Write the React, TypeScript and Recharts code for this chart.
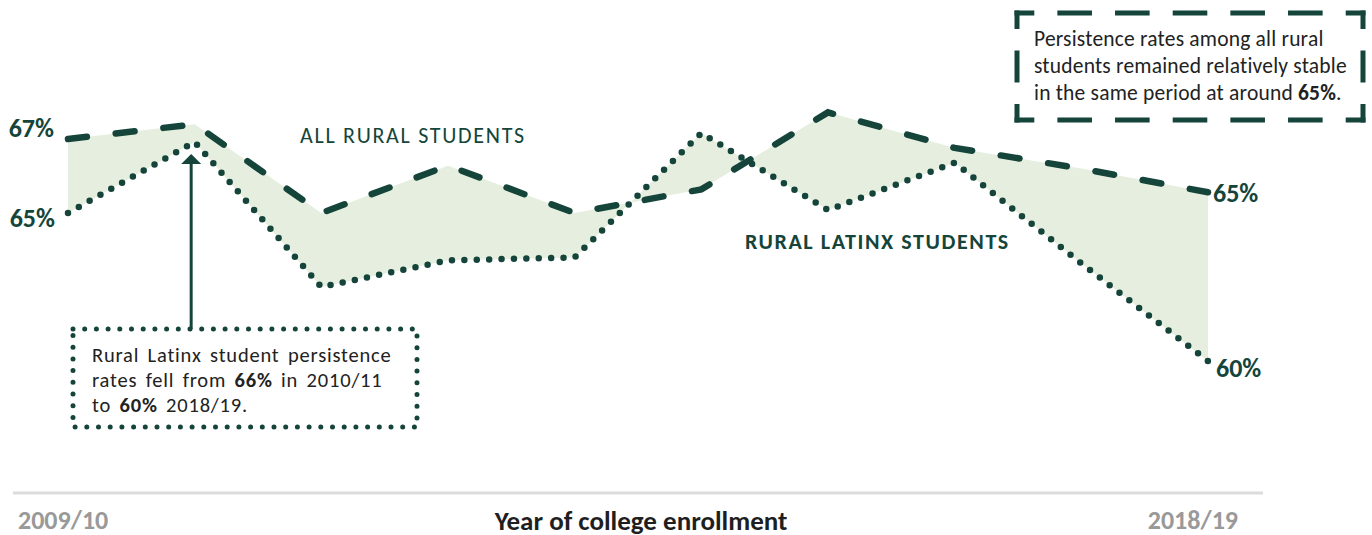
import React from "react";
import { ComposedChart, Area, Line, XAxis, YAxis, LabelList } from "recharts";

const years = ["2009/10", "2010/11", "2011/12", "2012/13", "2013/14", "2014/15", "2015/16", "2016/17", "2017/18", "2018/19"];
const allRural = [67.5, 68.0, 65.0, 66.6, 65.0, 65.8, 68.4, 67.2, 66.5, 65.7];
const latinx = [65.0, 67.4, 62.5, 63.4, 63.5, 67.7, 65.1, 66.7, 63.3, 60.0];
const allRuralEndLabels = ["67%", "65%"];
const latinxEndLabels = ["65%", "60%"];

const data = years.map((year, i) => ({
  idx: i,
  year,
  allRural: allRural[i],
  latinx: latinx[i],
  band: [latinx[i], allRural[i]],
}));

const GREEN = "#15453a";
const FILL = "#e6efdf";
const FONT = "Carlito, Calibri, Lato, 'Open Sans', sans-serif";
const END_SIZE = 26;

const allRuralLabel = (props: any) => {
  const { x, y, index } = props;
  if (index === 0) {
    return (
      <text x={x - 14} y={y - 11} textAnchor="end" dominantBaseline="central" fontFamily={FONT} fontWeight={700} fontSize={END_SIZE} fill={GREEN}>
        {allRuralEndLabels[0]}
      </text>
    );
  }
  if (index === years.length - 1) {
    return (
      <text x={x + 5} y={y + 1} textAnchor="start" dominantBaseline="central" fontFamily={FONT} fontWeight={700} fontSize={END_SIZE} fill={GREEN}>
        {allRuralEndLabels[1]}
      </text>
    );
  }
  return null;
};

const latinxLabel = (props: any) => {
  const { x, y, index } = props;
  if (index === 0) {
    return (
      <text x={x - 13} y={y + 5} textAnchor="end" dominantBaseline="central" fontFamily={FONT} fontWeight={700} fontSize={END_SIZE} fill={GREEN}>
        {latinxEndLabels[0]}
      </text>
    );
  }
  if (index === 1) {
    const ax = x - 3.5;
    const tip = y + 12;
    return (
      <g>
        <line x1={ax} y1={tip + 8} x2={ax} y2={329} stroke={GREEN} strokeWidth={3} />
        <polygon points={`${ax},${tip} ${ax - 10},${tip + 10} ${ax + 10},${tip + 10}`} fill={GREEN} />
      </g>
    );
  }
  if (index === years.length - 1) {
    return (
      <text x={x + 8} y={y + 7} textAnchor="start" dominantBaseline="central" fontFamily={FONT} fontWeight={700} fontSize={END_SIZE} fill={GREEN}>
        {latinxEndLabels[1]}
      </text>
    );
  }
  return null;
};

function DashedSide({ x1, y1, x2, y2, n }: { x1: number; y1: number; x2: number; y2: number; n: number }) {
  const len = Math.hypot(x2 - x1, y2 - y1);
  const period = len / n;
  const dash = period * 0.6;
  const gap = period - dash;
  const w = 5;
  return (
    <line
      x1={x1}
      y1={y1}
      x2={x2}
      y2={y2}
      stroke={GREEN}
      strokeWidth={w}
      strokeLinecap="square"
      strokeDasharray={`${dash - w} ${gap + w}`}
      strokeDashoffset={(dash - w) / 2}
    />
  );
}

export default function App() {
  const bx1 = 1017, by1 = 13, bx2 = 1363, by2 = 120;
  return (
    <div style={{ position: "absolute", left: 0, top: 0, width: 1372, height: 535, background: "#fff", fontFamily: FONT }}>
      <ComposedChart width={1372} height={535} data={data} margin={{ top: 65, right: 164, bottom: 114.8, left: 68 }}>
        <XAxis type="number" dataKey="idx" domain={[0, years.length - 1]} hide />
        <YAxis type="number" domain={[58, 70]} hide allowDataOverflow />
        <Area type="linear" dataKey="band" stroke="none" fill={FILL} fillOpacity={1} isAnimationActive={false} />
        <Line
          type="linear"
          dataKey="latinx"
          stroke={GREEN}
          strokeWidth={6.5}
          strokeLinecap="round"
          strokeDasharray="0 12.4"
          dot={false}
          activeDot={false}
          isAnimationActive={false}
        >
          <LabelList dataKey="latinx" content={latinxLabel} />
        </Line>
        <Line
          type="linear"
          dataKey="allRural"
          stroke={GREEN}
          strokeWidth={6.5}
          strokeLinecap="round"
          strokeDasharray="19 29"
          dot={false}
          activeDot={false}
          isAnimationActive={false}
        >
          <LabelList dataKey="allRural" content={allRuralLabel} />
        </Line>
      </ComposedChart>
      <svg width={1372} height={535} style={{ position: "absolute", left: 0, top: 0, pointerEvents: "none" }}>
        {/* series labels */}
        <text x={300} y={135} dominantBaseline="central" fontFamily={FONT} fontSize={22} letterSpacing={1.7} fill={GREEN}>
          ALL RURAL STUDENTS
        </text>
        <text x={745} y={241} dominantBaseline="central" fontFamily={FONT} fontWeight={700} fontSize={22} letterSpacing={1.6} fill={GREEN}>
          RURAL LATINX STUDENTS
        </text>

        {/* top-right annotation */}
        <DashedSide x1={bx1} y1={by1} x2={bx2} y2={by1} n={6} />
        <DashedSide x1={bx1} y1={by2} x2={bx2} y2={by2} n={6} />
        <DashedSide x1={bx1} y1={by1} x2={bx1} y2={by2} n={2} />
        <DashedSide x1={bx2} y1={by1} x2={bx2} y2={by2} n={2} />
        <g fontFamily={FONT} fontSize={21.5} letterSpacing={0.2} fill="#222">
          <text x={1034} y={39} dominantBaseline="central">Persistence rates among all rural</text>
          <text x={1034} y={66} dominantBaseline="central">students remained relatively stable</text>
          <text x={1034} y={93} dominantBaseline="central">
            in the same period at around <tspan fontWeight={700}>65%</tspan>.
          </text>
        </g>

        {/* bottom-left annotation */}
        <rect x={73} y={329} width={344} height={98} fill="none" stroke={GREEN} strokeWidth={5} strokeLinecap="round" strokeDasharray="0 11.7" />
        <g fontFamily={FONT} fontSize={20.5} letterSpacing={0.8} wordSpacing={3} fill="#222">
          <text x={92} y={355} dominantBaseline="central">Rural Latinx student persistence</text>
          <text x={92} y={380} dominantBaseline="central">
            rates fell from <tspan fontWeight={700}>66%</tspan> in 2010/11
          </text>
          <text x={92} y={405} dominantBaseline="central">
            to <tspan fontWeight={700}>60%</tspan> 2018/19.
          </text>
        </g>

        {/* bottom axis */}
        <line x1={13} y1={493} x2={1263} y2={493} stroke="#dcdcdc" strokeWidth={3} />
        <text x={18} y={520} dominantBaseline="central" fontFamily={FONT} fontWeight={700} fontSize={26} fill="#999">
          {years[0]}
        </text>
        <text x={1238} y={520} textAnchor="end" dominantBaseline="central" fontFamily={FONT} fontWeight={700} fontSize={26} fill="#999">
          {years[years.length - 1]}
        </text>
        <text x={641} y={520} textAnchor="middle" dominantBaseline="central" fontFamily={FONT} fontWeight={700} fontSize={27} fill="#1f1f1f">
          Year of college enrollment
        </text>
      </svg>
    </div>
  );
}
